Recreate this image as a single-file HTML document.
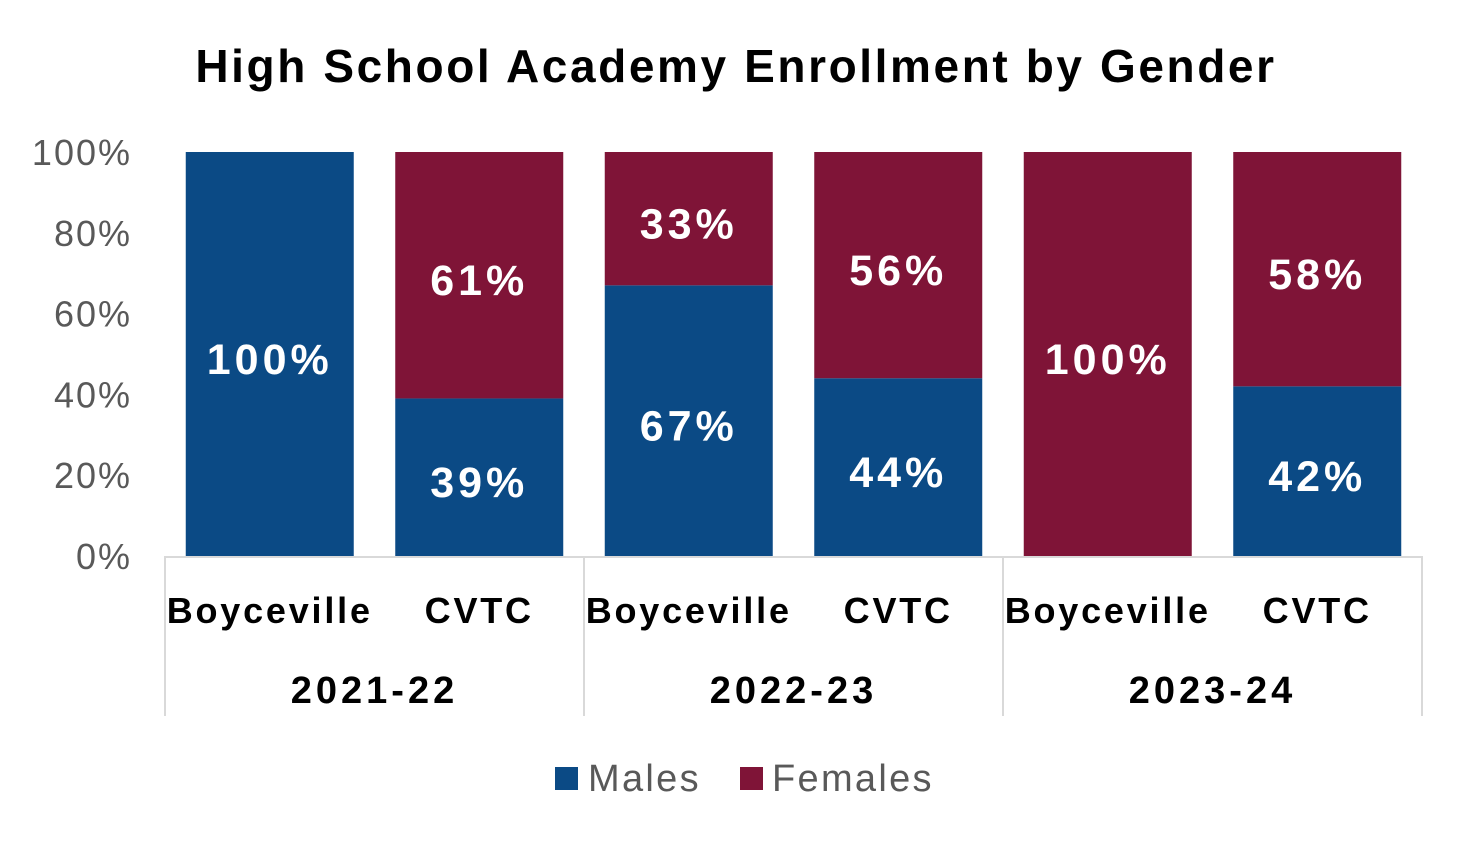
<!DOCTYPE html>
<html><head><meta charset="utf-8"><style>
body{margin:0;background:#fff;width:1473px;height:844px;overflow:hidden;font-family:"Liberation Sans",sans-serif}
</style></head><body>
<svg width="1473" height="844" id="chart">
<text x="736" y="82" text-anchor="middle" font-size="46" font-weight="bold" fill="#000" letter-spacing="2.6">High School Academy Enrollment by Gender</text>
</svg>
<script>
const categories=["Boyceville","CVTC","Boyceville","CVTC","Boyceville","CVTC"];
const years=["2021-22","2022-23","2023-24"];
const males=[100,39,67,44,0,42];
const females=[0,61,33,56,100,58];
const ticks=[0,20,40,60,80,100];
const svg=document.getElementById('chart');
const NS='http://www.w3.org/2000/svg';
const y0=556,y1=152,left=165,right=1422;
const y=v=>y0-(v/100)*(y0-y1);
const step=(right-left)/categories.length;
const bw=168;
const cx=i=>left+step*(i+0.5);
function mk(t,a,txt){const e=document.createElementNS(NS,t);for(const k in a)e.setAttribute(k,a[k]);if(txt!==undefined)e.textContent=txt;svg.appendChild(e);return e;}
ticks.forEach(t=>{const e=mk('text',{x:132,y:y(t)+13,'text-anchor':'end','font-size':36,fill:'#595959','letter-spacing':2},t+'%');

});
categories.forEach((c,i)=>{
 const x=cx(i)-bw/2;
 const m=mk('rect',{x:x,y:y(males[i]),width:bw,height:y0-y(males[i]),fill:'#0b4a85'});
 
 
 const f=mk('rect',{x:x,y:y(males[i]+females[i]),width:bw,height:y(males[i])-y(males[i]+females[i]),fill:'#7f1437'});
 
 
 if(males[i]>0){const t=mk('text',{x:cx(i),y:y(males[i]/2)+20,'text-anchor':'middle','font-size':43,'font-weight':'bold',fill:'#fff','letter-spacing':4},males[i]+'%');
 
 }
 if(females[i]>0){const t=mk('text',{x:cx(i),y:y(males[i]+females[i]/2)+20,'text-anchor':'middle','font-size':43,'font-weight':'bold',fill:'#fff','letter-spacing':4},females[i]+'%');
 
 }
 const l=mk('text',{x:cx(i),y:623,'text-anchor':'middle','font-size':36,'font-weight':'bold',fill:'#000','letter-spacing':2.8},c);
 
 
});
const ax=mk('line',{x1:left,x2:right,y1:y0+1,y2:y0+1,stroke:'#d9d9d9','stroke-width':2});


for(let g=0;g<=years.length;g++){const xx=left+step*2*g;
 const s=mk('line',{x1:xx,x2:xx,y1:y0,y2:716,stroke:'#d9d9d9','stroke-width':2});
 
 }
years.forEach((yr,g)=>{const t=mk('text',{x:left+step*(2*g+1),y:703,'text-anchor':'middle','font-size':38,'font-weight':'bold',fill:'#000','letter-spacing':4},yr);
 
 });
const lm=mk('rect',{x:555,y:767,width:23,height:23,fill:'#0b4a85'});


const lmt=mk('text',{x:588,y:791,'font-size':38,fill:'#595959','letter-spacing':2.3},'Males');


const lf=mk('rect',{x:740,y:767,width:23,height:23,fill:'#7f1437'});


const lft=mk('text',{x:772,y:791,'font-size':38,fill:'#595959','letter-spacing':2.3},'Females');


</script>
</body></html>
